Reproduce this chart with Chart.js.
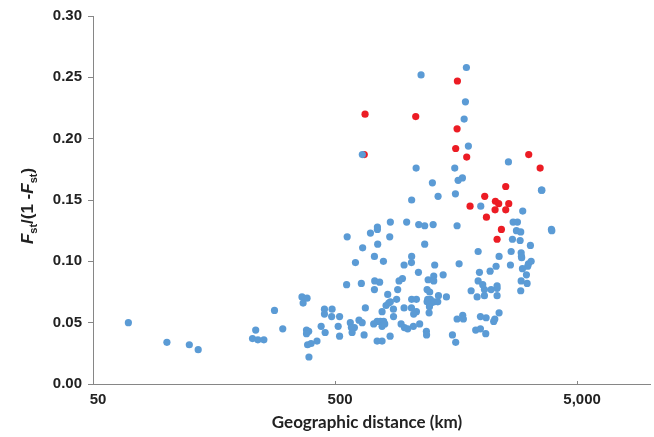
<!DOCTYPE html>
<html>
<head>
<meta charset="utf-8">
<script src="https://cdn.jsdelivr.net/npm/chart.js@4.4.1/dist/chart.umd.min.js"></script>
<style>
html,body{margin:0;padding:0;background:#fff;}
#wrap{width:654px;height:437px;position:relative;}
</style>
</head>
<body>
<div id="wrap"><canvas id="c" width="654" height="437"></canvas></div>
<script>
// Geographic distance (km) and Fst/(1-Fst), blue series
const blueDistance = [70,101,125,136,281,235,228,240,254,304,365,383,369,452,486,452,484,522,438,455,515,522,381,389,381,421,398,385,390,
846,988,1108,1173,1271,1596,748,748,700,561,841,650,750,1173,727,1036,607,792,964,1034,1290,1627,1950,1105,1398,1212,1278,1278,949,919,729,764,558,642,727,907,825,812,833,846,898,1036,1084,1200,1230,1207,1238,1200,1246,1286,1328,1227,1337,1442,964,1034,1084,1056,1223,871,872,782,667,628,647,578,584,601,588,659,722,746,769,794,782,802,746,782,844,937,967,998,1053,1118,1192,1194,1527,1575,1596,1684,1694,1824,1931,2070,2070,2206,2335,2335,2335,1950,2037,2185,1974,2313,2380,1993,2104,2261,2285,1905,1993,2096,
2720,2834,3915,3930,2807,2924,2702,2907,3206,2669,2936,2943,2950,2651,3146,3228,3125,2972,3087,2936,3107,2924,2380,
1744,1133,1728,1707,648,1777,1081,1561,1679,1612,1262,1332,1571,1036,1999,2601,3561,3576,2980];
const blueFst = [0.050,0.034,0.032,0.028,0.060,0.044,0.037,0.036,0.036,0.045,0.071,0.070,0.066,0.061,0.061,0.057,0.055,0.055,0.047,0.042,0.047,0.039,0.044,0.043,0.041,0.035,0.033,0.032,0.022,
0.132,0.132,0.130,0.129,0.130,0.129,0.128,0.126,0.123,0.120,0.120,0.111,0.114,0.114,0.104,0.104,0.099,0.100,0.097,0.099,0.097,0.098,0.108,0.091,0.089,0.085,0.088,0.084,0.086,0.084,0.084,0.083,0.081,0.082,0.077,0.077,0.073,0.064,0.066,0.067,0.069,0.069,0.069,0.077,0.075,0.069,0.069,0.067,0.066,0.067,0.067,0.063,0.072,0.071,0.062,0.062,0.059,0.057,0.058,0.061,0.055,0.059,0.062,0.052,0.050,0.050,0.046,0.046,0.042,0.040,0.049,0.051,0.051,0.051,0.047,0.049,0.035,0.035,0.039,0.049,0.046,0.045,0.047,0.049,0.043,0.040,0.040,0.034,0.053,0.056,0.053,0.076,0.071,0.072,0.077,0.077,0.078,0.072,0.080,0.084,0.081,0.092,0.091,0.096,0.104,0.055,0.054,0.051,0.053,0.044,0.045,0.041,
0.132,0.132,0.126,0.125,0.125,0.124,0.118,0.117,0.113,0.108,0.107,0.104,0.103,0.097,0.098,0.100,0.096,0.094,0.089,0.084,0.082,0.076,0.058,
0.258,0.252,0.230,0.216,0.187,0.194,0.176,0.176,0.168,0.166,0.164,0.153,0.155,0.150,0.145,0.181,0.158,0.158,0.141];
// red series
const redDistance = [1601,665,1077,1596,660,1575,1749,2076,1806,2298,2371,2609,2291,2535,2110,2433,2335,3155,3517,2535];
const redFst = [0.247,0.220,0.218,0.208,0.187,0.192,0.185,0.153,0.145,0.149,0.147,0.147,0.142,0.142,0.136,0.126,0.118,0.187,0.176,0.161];

const xTickValues = [50, 500, 5000];
const xTickLabels = ['50', '500', '5,000'];
const yTickValues = [0, 0.05, 0.10, 0.15, 0.20, 0.25, 0.30];
const xTitle = 'Geographic distance (km)';

const toPts = (xs, ys) => xs.map((x, i) => ({x: x, y: ys[i]}));

const titlePlugin = {
  id: 'titles',
  afterDraw(chart) {
    const ctx = chart.ctx;
    ctx.save();
    ctx.fillStyle = '#222';
    ctx.font = 'bold 17px Lato';
    ctx.textAlign = 'center';
    ctx.textBaseline = 'alphabetic';
    ctx.fillText(xTitle, 367, 428);
    // y title with subscripts
    const segs = [
      {t: 'F', f: 'italic bold 17px "Liberation Sans"', dy: 0},
      {t: 'st', f: 'bold 11px "Liberation Sans"', dy: 4},
      {t: '/(1 -', f: 'bold 17px "Liberation Sans"', dy: 0},
      {t: 'F', f: 'italic bold 17px "Liberation Sans"', dy: 0},
      {t: 'st', f: 'bold 11px "Liberation Sans"', dy: 4},
      {t: ')', f: 'bold 17px "Liberation Sans"', dy: 0}
    ];
    let total = 0;
    segs.forEach(s => { ctx.font = s.f; s.w = ctx.measureText(s.t).width; total += s.w; });
    ctx.translate(33, 206);
    ctx.rotate(-Math.PI / 2);
    ctx.textAlign = 'left';
    let x = -total / 2;
    segs.forEach(s => { ctx.font = s.f; ctx.fillText(s.t, x, s.dy); x += s.w; });
    ctx.restore();
  }
};

new Chart(document.getElementById('c'), {
  type: 'scatter',
  data: {
    datasets: [
      {data: toPts(blueDistance, blueFst), backgroundColor: '#5B9BD5', borderWidth: 0, pointRadius: 3.6, pointHoverRadius: 3.6},
      {data: toPts(redDistance, redFst), backgroundColor: '#EC1C24', borderWidth: 0, pointRadius: 3.6, pointHoverRadius: 3.6}
    ]
  },
  options: {
    responsive: false,
    animation: false,
    events: [],
    layout: {padding: {top: 16, right: 4, left: 0, bottom: 0}},
    plugins: {legend: {display: false}, tooltip: {enabled: false}},
    scales: {
      x: {
        type: 'logarithmic',
        min: 50,
        max: 10000,
        afterBuildTicks: s => { s.ticks = xTickValues.map(v => ({value: v})); },
        afterFit: s => { s.height = 53; },
        grid: {display: true, drawOnChartArea: false, drawTicks: true, tickLength: -3, color: '#868686'},
        border: {display: true, color: '#868686', width: 1},
        ticks: {
          autoSkip: false, maxRotation: 0, minRotation: 0, padding: 9.5, labelOffset: 5,
          color: '#222', font: {family: '"Liberation Sans"', size: 15, weight: 'bold'},
          callback: (v, i) => xTickLabels[i]
        }
      },
      y: {
        type: 'linear',
        min: 0,
        max: 0.30,
        afterBuildTicks: s => { s.ticks = yTickValues.map(v => ({value: v})); },
        afterFit: s => { s.width = 93; },
        grid: {display: true, drawOnChartArea: false, drawTicks: true, tickLength: 5, color: '#868686'},
        border: {display: true, color: '#868686', width: 1},
        ticks: {
          padding: 6, color: '#222', font: {family: '"Liberation Sans"', size: 15, weight: 'bold'},
          callback: v => v.toFixed(2)
        }
      }
    }
  },
  plugins: [titlePlugin]
});
</script>
</body>
</html>
